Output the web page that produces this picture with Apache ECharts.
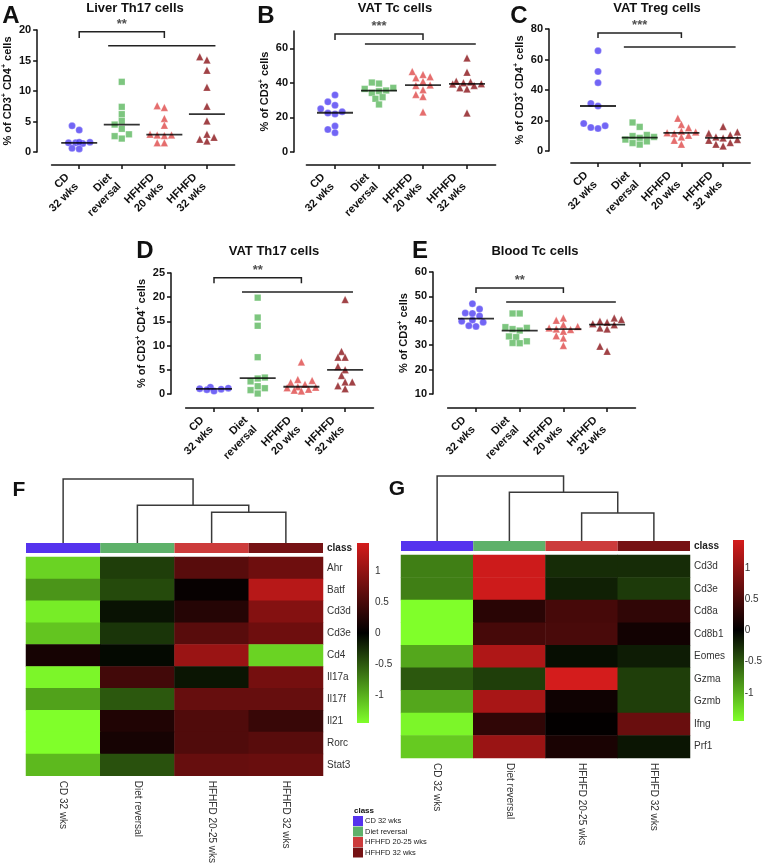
<!DOCTYPE html>
<html><head><meta charset="utf-8">
<script src="https://cdn.jsdelivr.net/npm/echarts@6/dist/echarts.min.js"></script>
<style>html,body{margin:0;padding:0;background:#fff}#c{width:765px;height:866px}</style>
</head><body><div id="c"></div>
<script>
// ---------- categories / labels ----------
const categories = ['CD\n32 wks', 'Diet\nreversal', 'HFHFD\n20 wks', 'HFHFD\n32 wks'];
const heatColumns = ['CD 32 wks', 'Diet reversal', 'HFHFD 20-25 wks', 'HFHFD 32 wks'];

// ---------- Panel A: Liver Th17 ----------
const liverTh17_CD   = [4.3, 3.6, 1.6, 1.5, 1.4, 1.5, 1.6, 0.6, 0.5];
const liverTh17_Diet = [11.5, 7.4, 6.2, 5.1, 4.5, 3.8, 2.9, 2.6, 2.2];
const liverTh17_HF20 = [7.6, 7.3, 5.5, 4.4, 2.9, 2.8, 2.7, 2.8, 1.5, 1.5];
const liverTh17_HF32 = [15.6, 15.1, 13.4, 10.6, 7.5, 5.1, 2.9, 2.4, 2.1, 1.8];
const liverTh17_median = [1.5, 4.5, 2.85, 6.2];
const liverTh17_ticks = [0, 5, 10, 15, 20];

// ---------- Panel B: VAT Tc ----------
const vatTc_CD   = [33, 29, 27, 25, 23.3, 22.5, 22, 15, 13, 11.2];
const vatTc_Diet = [40.2, 39.6, 37.1, 36.5, 35.6, 35.2, 34.2, 31.7, 30.8, 27.5];
const vatTc_HF20 = [46.5, 44.8, 43.6, 42.9, 40.8, 38.8, 38.4, 36, 33.3, 32.1, 23.1];
const vatTc_HF32 = [54.4, 46.2, 41, 40.5, 40, 39.5, 39.3, 38.5, 37.1, 36.5, 22.5];
const vatTc_median = [22.7, 35.5, 38.7, 39.4];
const vatTc_ticks = [0, 20, 40, 60];

// ---------- Panel C: VAT Treg ----------
const vatTreg_CD   = [65.7, 52.1, 44.8, 31.2, 29.5, 18, 16.5, 15.4, 14.7];
const vatTreg_Diet = [18.7, 15.8, 10.5, 9.8, 9.2, 8.6, 7.5, 6.3, 5.2, 4.2];
const vatTreg_HF20 = [21.5, 17.4, 15.2, 13, 12.5, 11.9, 11.4, 10.3, 9.2, 7, 4.5];
const vatTreg_HF32 = [16, 12.5, 11.6, 10.5, 9.2, 8.6, 7.5, 7, 5.5, 4.5, 3.3];
const vatTreg_median = [29.5, 8.8, 11.9, 8.6];
const vatTreg_ticks = [0, 20, 40, 60, 80];

// ---------- Panel D: VAT Th17 ----------
const vatTh17_CD   = [1.4, 1.2, 1.1, 1.0, 0.9, 0.6];
const vatTh17_Diet = [19.9, 15.8, 14.1, 7.6, 3.4, 3.2, 2.6, 1.6, 1.2, 0.8, 0.1];
const vatTh17_HF20 = [6.6, 3.0, 2.8, 2.4, 2.0, 1.5, 1.4, 1.3, 1.0, 0.8, 0.6];
const vatTh17_HF32 = [19.5, 8.8, 7.6, 7.6, 5.7, 5.0, 3.8, 2.5, 2.5, 1.7, 1.1];
const vatTh17_median = [1.05, 3.3, 1.5, 5.0];
const vatTh17_ticks = [0, 5, 10, 15, 20, 25];

// ---------- Panel E: Blood Tc ----------
const bloodTc_CD   = [47, 44.8, 43.2, 43, 42, 40.3, 39.8, 39.4, 38, 37.7];
const bloodTc_Diet = [43, 43, 37.4, 37.1, 36.6, 36, 33.6, 33.3, 31.6, 30.9, 30.8];
const bloodTc_HF20 = [41.1, 40.2, 38.4, 37.7, 37.1, 36.6, 36.4, 35.7, 33.9, 32.9, 29.9];
const bloodTc_HF32 = [41.1, 40.5, 39.8, 39.4, 38.8, 38.4, 37.1, 36.6, 29.6, 27.5];
const bloodTc_median = [40.9, 36, 36.6, 38.4];
const bloodTc_ticks = [10, 20, 30, 40, 50, 60];

// ---------- significance annotations ----------
const sigLabels = ['**', '***', '***', '**', '**'];
const sigBracket = [[19.7, 18.7], [68.3, 64.8], [77.4, 74.1], [24.0, 22.9], [53.4, 51.4]];
const sigLine = [17.4, 62.5, 68.2, 21.1, 47.7];
const sigLineSpan = [[0.68, 3.2], [0.68, 3.2], [0.62, 3.3], [0.64, 3.18], [0.69, 3.2]];

// ---------- Heatmap F ----------
const F_genes = ['Ahr', 'Batf', 'Cd3d', 'Cd3e', 'Cd4', 'Il17a', 'Il17f', 'Il21', 'Rorc', 'Stat3'];
const F_values = [
  [-1.2, -0.35, 0.6, 0.75],
  [-0.85, -0.42, 0.05, 1.25],
  [-1.35, -0.1, 0.25, 0.9],
  [-1.12, -0.3, 0.6, 0.75],
  [0.15, -0.05, 1.05, -1.2],
  [-1.4, 0.45, -0.12, 0.8],
  [-0.92, -0.5, 0.7, 0.7],
  [-1.45, 0.22, 0.55, 0.38],
  [-1.45, 0.15, 0.55, 0.6],
  [-1.05, -0.46, 0.7, 0.72]
];
const F_dendroHeights = [1, 0.59, 0.48];

// ---------- Heatmap G ----------
const G_genes = ['Cd3d', 'Cd3e', 'Cd8a', 'Cd8b1', 'Eomes', 'Gzma', 'Gzmb', 'Ifng', 'Prf1'];
const G_values = [
  [-0.72, 1.4, -0.25, -0.25],
  [-0.72, 1.4, -0.18, -0.33],
  [-1.45, 0.28, 0.48, 0.33],
  [-1.45, 0.48, 0.5, 0.12],
  [-0.95, 1.2, -0.08, -0.16],
  [-0.5, -0.35, 1.45, -0.35],
  [-0.95, 1.15, 0.1, -0.35],
  [-1.4, 0.33, 0.02, 0.72],
  [-1.15, 1.05, 0.18, -0.12]
];
const G_dendroHeights = [1, 0.75, 0.43];
const colorbarTicks = [-1, -0.5, 0, 0.5, 1];

// ---------- styles ----------
const FONT = '"Liberation Sans", Arial, sans-serif';
const groupColors = ['#4f3ef2', '#5cb85f', '#de4848', '#8a1318'];
const groupSymbols = ['circle', 'rect', 'triangle', 'triangle'];
const groupSizes = [7, 6.5, 7.5, 7.5];
const classColors = ['#5533ee', '#5eb16a', '#cc3b3b', '#761214'];
const AX = '#111';

const panels = [
  {data: [liverTh17_CD, liverTh17_Diet, liverTh17_HF20, liverTh17_HF32], med: liverTh17_median, ticks: liverTh17_ticks,
   min: 0, max: 20, tick0: 74, step: 44, top: 30, height: 122, yAxisX: 31, xAxisY: 165, nameGap: 14, cd4: true},
  {data: [vatTc_CD, vatTc_Diet, vatTc_HF20, vatTc_HF32], med: vatTc_median, ticks: vatTc_ticks,
   min: 0, max: 70, tick0: 335, step: 44, top: 31, height: 121, yAxisX: 294, xAxisY: 165, nameGap: 20, cd4: false},
  {data: [vatTreg_CD, vatTreg_Diet, vatTreg_HF20, vatTreg_HF32], med: vatTreg_median, ticks: vatTreg_ticks,
   min: 0, max: 80, tick0: 598, step: 41.7, top: 29, height: 122, yAxisX: 549, xAxisY: 163, nameGap: 15, cd4: true},
  {data: [vatTh17_CD, vatTh17_Diet, vatTh17_HF20, vatTh17_HF32], med: vatTh17_median, ticks: vatTh17_ticks,
   min: 0, max: 25, tick0: 214, step: 43.7, top: 273, height: 121, yAxisX: 171, xAxisY: 408, nameGap: 18, cd4: true},
  {data: [bloodTc_CD, bloodTc_Diet, bloodTc_HF20, bloodTc_HF32], med: bloodTc_median, ticks: bloodTc_ticks,
   min: 10, max: 60, tick0: 476, step: 43.7, top: 272, height: 122, yAxisX: 433, xAxisY: 408, nameGap: 20, cd4: false}
];

// horizontal spreading of overlapping dots (visual only)
function swarm(vals, pxPerUnit, d, maxOff) {
  const order = vals.map((v, i) => i).sort((a, b) => vals[a] - vals[b]);
  const placed = [], off = new Array(vals.length).fill(0);
  const cands = [0];
  for (let k = 1; k * d * 0.55 <= maxOff; k++) { cands.push(-k * d * 0.55, k * d * 0.55); }
  for (const i of order) {
    const y = vals[i] * pxPerUnit;
    let best = 0, bestScore = -1;
    for (const c of cands) {
      const minD = placed.length ? Math.min(...placed.map(p => Math.hypot(p.x - c, p.y - y))) : 99;
      if (minD >= d) { best = c; bestScore = 1e9; break; }
      if (minD > bestScore) { bestScore = minD; best = c; }
    }
    placed.push({x: best, y}); off[i] = best;
  }
  return off;
}

const grids = [], xAxes = [], yAxes = [], series = [];
const XMIN = -0.65, XMAX = 3.65;

panels.forEach((p, pi) => {
  const left = p.tick0 + XMIN * p.step;
  const width = (XMAX - XMIN) * p.step;
  grids.push({left, top: p.top, width, height: p.height});
  xAxes.push({
    gridIndex: pi, type: 'value', min: XMIN, max: XMAX, offset: p.xAxisY - (p.top + p.height),
    axisLine: {show: true, onZero: false, lineStyle: {color: AX, width: 1.5}},
    axisTick: {show: true, customValues: [0, 1, 2, 3], length: 4, lineStyle: {color: AX, width: 1.5}},
    axisLabel: {customValues: [0, 1, 2, 3], formatter: v => categories[Math.round(v)], rotate: 45, margin: 8,
      padding: [0, 10, 0, 0], fontSize: 11, fontWeight: 'bold', color: AX, fontFamily: FONT, lineHeight: 13},
    splitLine: {show: false}
  });
  const nameText = p.cd4 ? '% of CD3{sup|+} CD4{sup|+} cells' : '% of CD3{sup|+} cells';
  yAxes.push({
    gridIndex: pi, type: 'value', min: p.min, max: p.max, offset: left - p.yAxisX,
    axisLine: {show: true, onZero: false, lineStyle: {color: AX, width: 1.5}},
    axisTick: {show: true, customValues: p.ticks, length: 4, lineStyle: {color: AX, width: 1.5}},
    axisLabel: {customValues: p.ticks, fontSize: 11, fontWeight: 'bold', color: AX, fontFamily: FONT, margin: 6},
    splitLine: {show: false},
    name: nameText, nameLocation: 'middle', nameRotate: 90, nameGap: p.nameGap,
    nameTextStyle: {fontSize: 11, fontWeight: 'bold', color: AX, fontFamily: FONT, lineHeight: 14,
      rich: {sup: {fontSize: 7, fontWeight: 'bold', color: AX, fontFamily: FONT, verticalAlign: 'top', lineHeight: 14}}}
  });
  const pxPerUnit = p.height / (p.max - p.min);
  p.data.forEach((vals, g) => {
    const off = swarm(vals, pxPerUnit, 6.5, 17);
    series.push({
      type: 'scatter', xAxisIndex: pi, yAxisIndex: pi, symbol: groupSymbols[g], symbolSize: groupSizes[g],
      itemStyle: {color: groupColors[g], borderColor: 'rgba(255,255,255,0.5)', borderWidth: 0.6}, silent: true,
      data: vals.map((v, i) => ({value: [g, v], symbolOffset: [off[i], 0]})), z: 3
    });
  });
  series.push({
    type: 'scatter', xAxisIndex: pi, yAxisIndex: pi, symbol: 'rect', symbolSize: [36, 1.8], silent: true,
    itemStyle: {color: '#000'}, data: p.med.map((m, g) => [g, m]), z: 5
  });
  const [bt, bf] = sigBracket[pi];
  const [l1, l2] = sigLineSpan[pi];
  series.push({
    type: 'lines', coordinateSystem: 'cartesian2d', xAxisIndex: pi, yAxisIndex: pi, polyline: true, silent: true,
    lineStyle: {color: '#222', width: 1.5, opacity: 1},
    data: [{coords: [[0, bf], [0, bt], [2, bt], [2, bf]]}, {coords: [[l1, sigLine[pi]], [l2, sigLine[pi]]]}]
  });
  series.push({
    type: 'scatter', xAxisIndex: pi, yAxisIndex: pi, symbolSize: 0.1, silent: true, clip: false,
    itemStyle: {color: 'transparent'},
    label: {show: true, position: 'top', distance: 1, formatter: sigLabels[pi], fontSize: 13, fontWeight: 'bold', color: '#222', fontFamily: FONT},
    data: [[1, bt]]
  });
});

// ---------- heatmaps ----------
function heatBlock(cfg) {
  const gi = grids.length;
  grids.push({left: cfg.left, width: cfg.width, top: cfg.dendroTop, height: cfg.dendroHeight});
  xAxes.push({gridIndex: gi, type: 'value', min: -0.5, max: 3.5, show: false});
  yAxes.push({gridIndex: gi, type: 'value', min: 0, max: 1.03, show: false});
  const [h1, h2, h3] = cfg.dendro;
  series.push({
    type: 'lines', coordinateSystem: 'cartesian2d', xAxisIndex: gi, yAxisIndex: gi, polyline: true, silent: true,
    lineStyle: {color: '#3a3a3a', width: 1.5, opacity: 1},
    data: [
      {coords: [[0, 0], [0, h1], [1.75, h1], [1.75, h2]]},
      {coords: [[1, 0], [1, h2], [2.5, h2], [2.5, h3]]},
      {coords: [[2, 0], [2, h3], [3, h3], [3, 0]]}
    ]
  });
  grids.push({left: cfg.left, width: cfg.width, top: cfg.classTop, height: 10});
  xAxes.push({gridIndex: gi + 1, type: 'value', min: 0, max: 4, show: false});
  yAxes.push({gridIndex: gi + 1, type: 'category', data: ['class'], position: 'right',
    axisLine: {show: false}, axisTick: {show: false},
    axisLabel: {fontSize: 10, fontWeight: 'bold', color: '#222', fontFamily: FONT, margin: 4}});
  heatColumns.forEach((name, k) => {
    series.push({type: 'bar', name, stack: 'cls' + gi, xAxisIndex: gi + 1, yAxisIndex: gi + 1, barWidth: '100%',
      silent: true, itemStyle: {color: classColors[k]}, data: [1]});
  });
  grids.push({left: cfg.left, width: cfg.width, top: cfg.heatTop, height: cfg.heatHeight});
  xAxes.push({gridIndex: gi + 2, type: 'category', data: heatColumns, axisLine: {show: false}, axisTick: {show: false},
    axisLabel: {rotate: -90, interval: 0, margin: 5, fontSize: 10, color: '#333', fontFamily: FONT}});
  yAxes.push({gridIndex: gi + 2, type: 'category', data: cfg.genes, inverse: true, position: 'right',
    axisLine: {show: false}, axisTick: {show: false},
    axisLabel: {fontSize: 10, color: '#333', fontFamily: FONT, margin: 4}});
  const data = [];
  cfg.values.forEach((row, r) => row.forEach((v, c) => data.push([c, r, v])));
  const si = series.length;
  series.push({type: 'heatmap', xAxisIndex: gi + 2, yAxisIndex: gi + 2, data, silent: true, itemStyle: {borderWidth: 0}});
  grids.push({left: cfg.cbLeft, width: cfg.cbWidth, top: cfg.cbTop, height: cfg.cbHeight});
  xAxes.push({gridIndex: gi + 3, type: 'value', show: false, min: 0, max: 1});
  yAxes.push({gridIndex: gi + 3, type: 'value', min: -1.45, max: 1.45, position: 'right',
    axisLine: {show: false}, axisTick: {show: false}, splitLine: {show: false},
    axisLabel: {customValues: colorbarTicks, fontSize: 10, color: '#333', fontFamily: FONT, margin: 6}});
  series.push({type: 'scatter', xAxisIndex: gi + 3, yAxisIndex: gi + 3, data: [], silent: true});
  return si;
}

const hF = heatBlock({left: 26, width: 297, dendroTop: 477, dendroHeight: 66, classTop: 543, heatTop: 557, heatHeight: 226,
  genes: F_genes, values: F_values, dendro: F_dendroHeights, cbLeft: 357, cbWidth: 12, cbTop: 543, cbHeight: 180});
const hG = heatBlock({left: 401, width: 289, dendroTop: 474, dendroHeight: 67, classTop: 541, heatTop: 555, heatHeight: 203,
  genes: G_genes, values: G_values, dendro: G_dendroHeights, cbLeft: 733, cbWidth: 11, cbTop: 540, cbHeight: 181});

const heatColors = ['#80ff2a', '#000000', '#d41c1c'];

function txt(text, x, y, font, align) {
  return {type: 'text', x, y, silent: true,
    style: {text, font, fill: '#111', align: align || 'center', verticalAlign: 'middle'}};
}
function cbRect(x, y, w, h) {
  return {type: 'rect', silent: true, shape: {x, y, width: w, height: h},
    style: {fill: new echarts.graphic.LinearGradient(0, 0, 0, 1, [
      {offset: 0, color: heatColors[2]}, {offset: 0.5, color: heatColors[1]}, {offset: 1, color: heatColors[0]}])}};
}
const B24 = 'bold 24px "Liberation Sans", Arial';
const B21 = 'bold 21px "Liberation Sans", Arial';
const T13 = 'bold 13px "Liberation Sans", Arial';

const option = {
  animation: false,
  backgroundColor: '#fff',
  grid: grids, xAxis: xAxes, yAxis: yAxes, series,
  visualMap: {type: 'continuous', show: false, min: -1.45, max: 1.45, seriesIndex: [hF, hG], inRange: {color: heatColors}},
  legend: {data: heatColumns, left: 353, top: 816, orient: 'vertical', icon: 'rect', itemWidth: 10, itemHeight: 10,
    itemGap: 0.5, padding: 0, selectedMode: false, textStyle: {fontSize: 7.5, color: '#222', fontFamily: FONT, padding: [0, 0, 0, -3]}},
  graphic: [
    txt('A', 11, 16, B24), txt('B', 266, 16, B24), txt('C', 519, 16, B24),
    txt('D', 145, 251, B24), txt('E', 420, 251, B24), txt('F', 19, 490, B21), txt('G', 397, 489, B21),
    txt('Liver Th17 cells', 135, 8, T13), txt('VAT Tc cells', 395, 8, T13), txt('VAT Treg cells', 657, 8, T13),
    txt('VAT Th17 cells', 274, 251, T13), txt('Blood Tc cells', 535, 251, T13),
    txt('class', 354, 811, 'bold 8px "Liberation Sans", Arial', 'left'),
    cbRect(357, 543, 12, 180), cbRect(733, 540, 11, 181)
  ]
};

const chart = echarts.init(document.getElementById('c'), null, {renderer: 'canvas'});
chart.setOption(option);
</script></body></html>
